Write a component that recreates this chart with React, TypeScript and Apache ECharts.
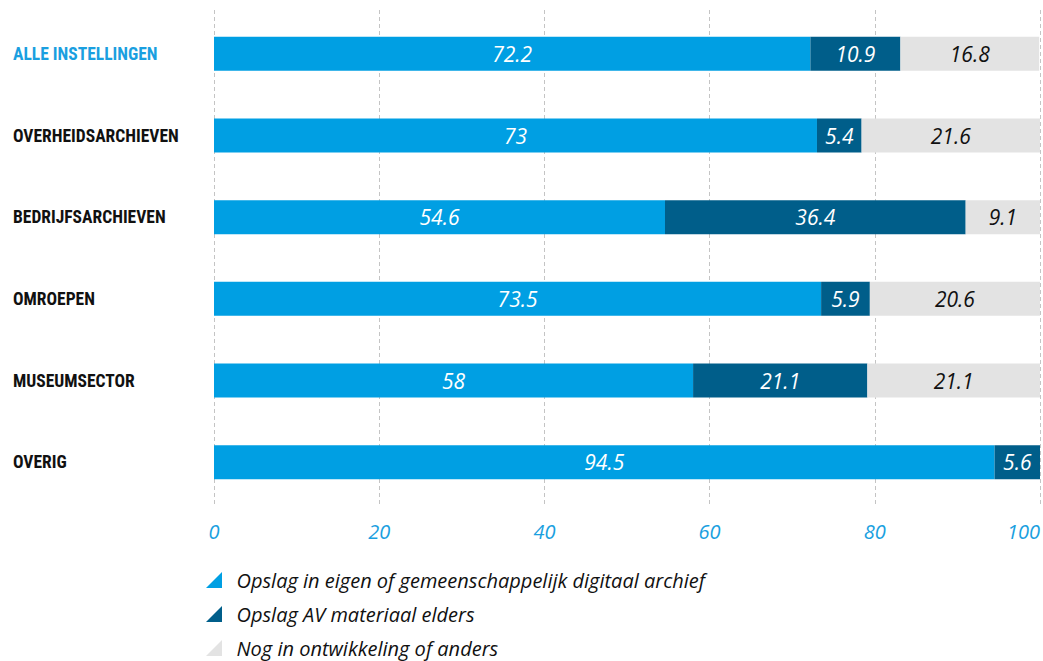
import React, { useEffect, useRef } from "react";
import * as echarts from "echarts";

const categories = [
  "ALLE INSTELLINGEN",
  "OVERHEIDSARCHIEVEN",
  "BEDRIJFSARCHIEVEN",
  "OMROEPEN",
  "MUSEUMSECTOR",
  "OVERIG",
];
const seriesNames = [
  "Opslag in eigen of gemeenschappelijk digitaal archief",
  "Opslag AV materiaal elders",
  "Nog in ontwikkeling of anders",
];
const eigenArchief = [72.2, 73, 54.6, 73.5, 58, 94.5];
const elders = [10.9, 5.4, 36.4, 5.9, 21.1, 5.6];
const ontwikkeling = [16.8, 21.6, 9.1, 20.6, 21.1, null];

const COLORS = ["#009FE3", "#005E8A", "#E3E3E3"];
const LABEL_COLORS = ["#ffffff", "#ffffff", "#111111"];
const TRI = "path://M1,0 L1,1 L0,1 Z";
const FONT = "'Open Sans', 'Noto Sans', sans-serif";
const CAT_FONT = "'Roboto Condensed', 'Roboto', sans-serif";

export default function App() {
  const ref = useRef<HTMLDivElement>(null);
  useEffect(() => {
    document.body.style.margin = "0";
    const chart = echarts.init(ref.current!, null, { renderer: "svg" });
    const dataSets = [eigenArchief, elders, ontwikkeling];
    chart.setOption({
      animation: false,
      backgroundColor: "#ffffff",
      grid: [
        { left: 214, right: 3, top: 10, bottom: 154, outerBoundsMode: "none" },
        { left: 214, right: 3, top: 13, bottom: 158, outerBoundsMode: "none" },
      ],
      xAxis: [
        {
          gridIndex: 0,
          type: "value",
          min: 0,
          max: 100,
          interval: 20,
          axisLine: { show: false },
          axisTick: { show: false },
          splitLine: { show: true, lineStyle: { color: "#c4c4c4", type: [4, 3], width: 1 } },
          axisLabel: {
            margin: 14,
            color: "#1A9FE0",
            fontSize: 20,
            fontStyle: "italic",
            fontFamily: FONT,
            alignMaxLabel: "right",
          },
        },
        {
          gridIndex: 1,
          type: "value",
          min: 0,
          max: 100,
          show: false,
          splitLine: { show: false },
        },
      ],
      yAxis: [
        { gridIndex: 0, type: "value", show: false, splitLine: { show: false } },
        {
          gridIndex: 1,
          type: "category",
          data: categories,
          inverse: true,
          axisLine: { show: false },
          axisTick: { show: false },
          splitLine: { show: false },
          axisLabel: {
            align: "left",
            margin: 201,
            fontSize: 17.5,
            fontWeight: "bold",
            fontFamily: CAT_FONT,
            color: (_v: string, i: number) => (i === 0 ? "#1A9FE0" : "#111111"),
          },
        },
      ],
      legend: {
        orient: "vertical",
        left: 206,
        top: 569,
        padding: 0,
        itemWidth: 17,
        itemHeight: 16,
        itemGap: 12,
        icon: TRI,
        selectedMode: false,
        textStyle: {
          fontSize: 20,
          lineHeight: 22,
          fontStyle: "italic",
          fontFamily: FONT,
          color: "#111111",
          padding: [0, 0, 0, 9],
        },
        data: seriesNames,
      },
      series: seriesNames.map((name, k) => ({
        name,
        type: "bar",
        stack: "total",
        xAxisIndex: 1,
        yAxisIndex: 1,
        barWidth: 34,
        itemStyle: { color: COLORS[k] },
        label: {
          show: true,
          position: "inside",
          color: LABEL_COLORS[k],
          fontSize: 21,
          fontStyle: "italic",
          fontFamily: FONT,
          formatter: (p: any) => (p.value == null ? "" : String(p.value)),
        },
        data: dataSets[k],
      })),
    });
    return () => chart.dispose();
  }, []);
  return <div ref={ref} style={{ width: 1043, height: 661 }} />;
}
